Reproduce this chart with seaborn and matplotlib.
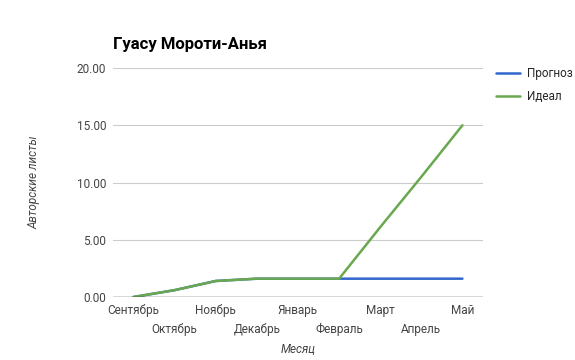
import matplotlib
matplotlib.use("Agg")
import matplotlib.pyplot as plt
import pandas as pd
import seaborn as sns

# ── Data ──────────────────────────────────────────────────────────────────────
months = ["Сентябрь", "Октябрь", "Ноябрь", "Декабрь", "Январь",
          "Февраль", "Март", "Апрель", "Май"]
forecast = [0.0, 0.6, 1.4, 1.6, 1.6, 1.6, 1.6, 1.6, 1.6]
ideal    = [0.0, 0.6, 1.4, 1.6, 1.6, 1.6, 6.1, 10.5, 15.0]
yticks   = [0, 5, 10, 15, 20]

df = pd.DataFrame({
    "idx":   list(range(len(months))) * 2,
    "value": forecast + ideal,
    "series": ["Прогноз"] * len(months) + ["Идеал"] * len(months),
})

# ── Plot ──────────────────────────────────────────────────────────────────────
sns.set_theme(style="white")
plt.rcParams["font.family"] = ["Roboto", "DejaVu Sans"]

fig = plt.figure(figsize=(5.75, 3.6), dpi=100)
ax = fig.add_axes([0.1965, 0.175, 0.6435, 0.636])

ax.set_ylim(0, 20)
ax.set_xlim(-0.5, len(months) - 0.5)
ax.set_yticks(yticks)
ax.set_yticklabels([f"{t:.2f}" for t in yticks], fontsize=8.5, color="#444444")
for t in yticks[1:]:
    ax.axhline(t, color="#cccccc", lw=0.8, zorder=0)

sns.lineplot(data=df, x="idx", y="value", hue="series",
             palette={"Прогноз": "#3366cc", "Идеал": "#6aa84f"},
             linewidth=1.8, ax=ax, legend=True)

ax.axhline(0, color="#333333", lw=1.0, zorder=3)

# staggered month labels, two rows
ax.set_xticks(range(len(months)))
ax.set_xticklabels(months, fontsize=8.5, color="#444444")
ax.tick_params(axis="both", length=0, pad=5)
for i, tick in enumerate(ax.xaxis.get_major_ticks()):
    tick.set_pad(5 if i % 2 == 0 else 19)

for s in ax.spines.values():
    s.set_visible(False)

ax.set_xlabel("Месяц", fontsize=8.5, style="italic", color="#444444")
ax.xaxis.set_label_coords(0.5, -0.2)
ax.set_ylabel("Авторские листы", fontsize=8.5, style="italic", color="#444444")
ax.yaxis.set_label_coords(-0.197, 0.5)

fig.text(0.196, 0.865, "Гуасу Мороти-Анья", fontsize=12, fontweight="bold",
         color="#000000")

leg = ax.legend(loc="upper left", bbox_to_anchor=(1.035, 1.005), frameon=False,
                fontsize=8.5, handlelength=2.0, handletextpad=0.6,
                labelspacing=0.85, borderpad=0, borderaxespad=0)
for h in leg.get_lines():
    h.set_linewidth(1.8)

fig.savefig("out.png", dpi=100)
